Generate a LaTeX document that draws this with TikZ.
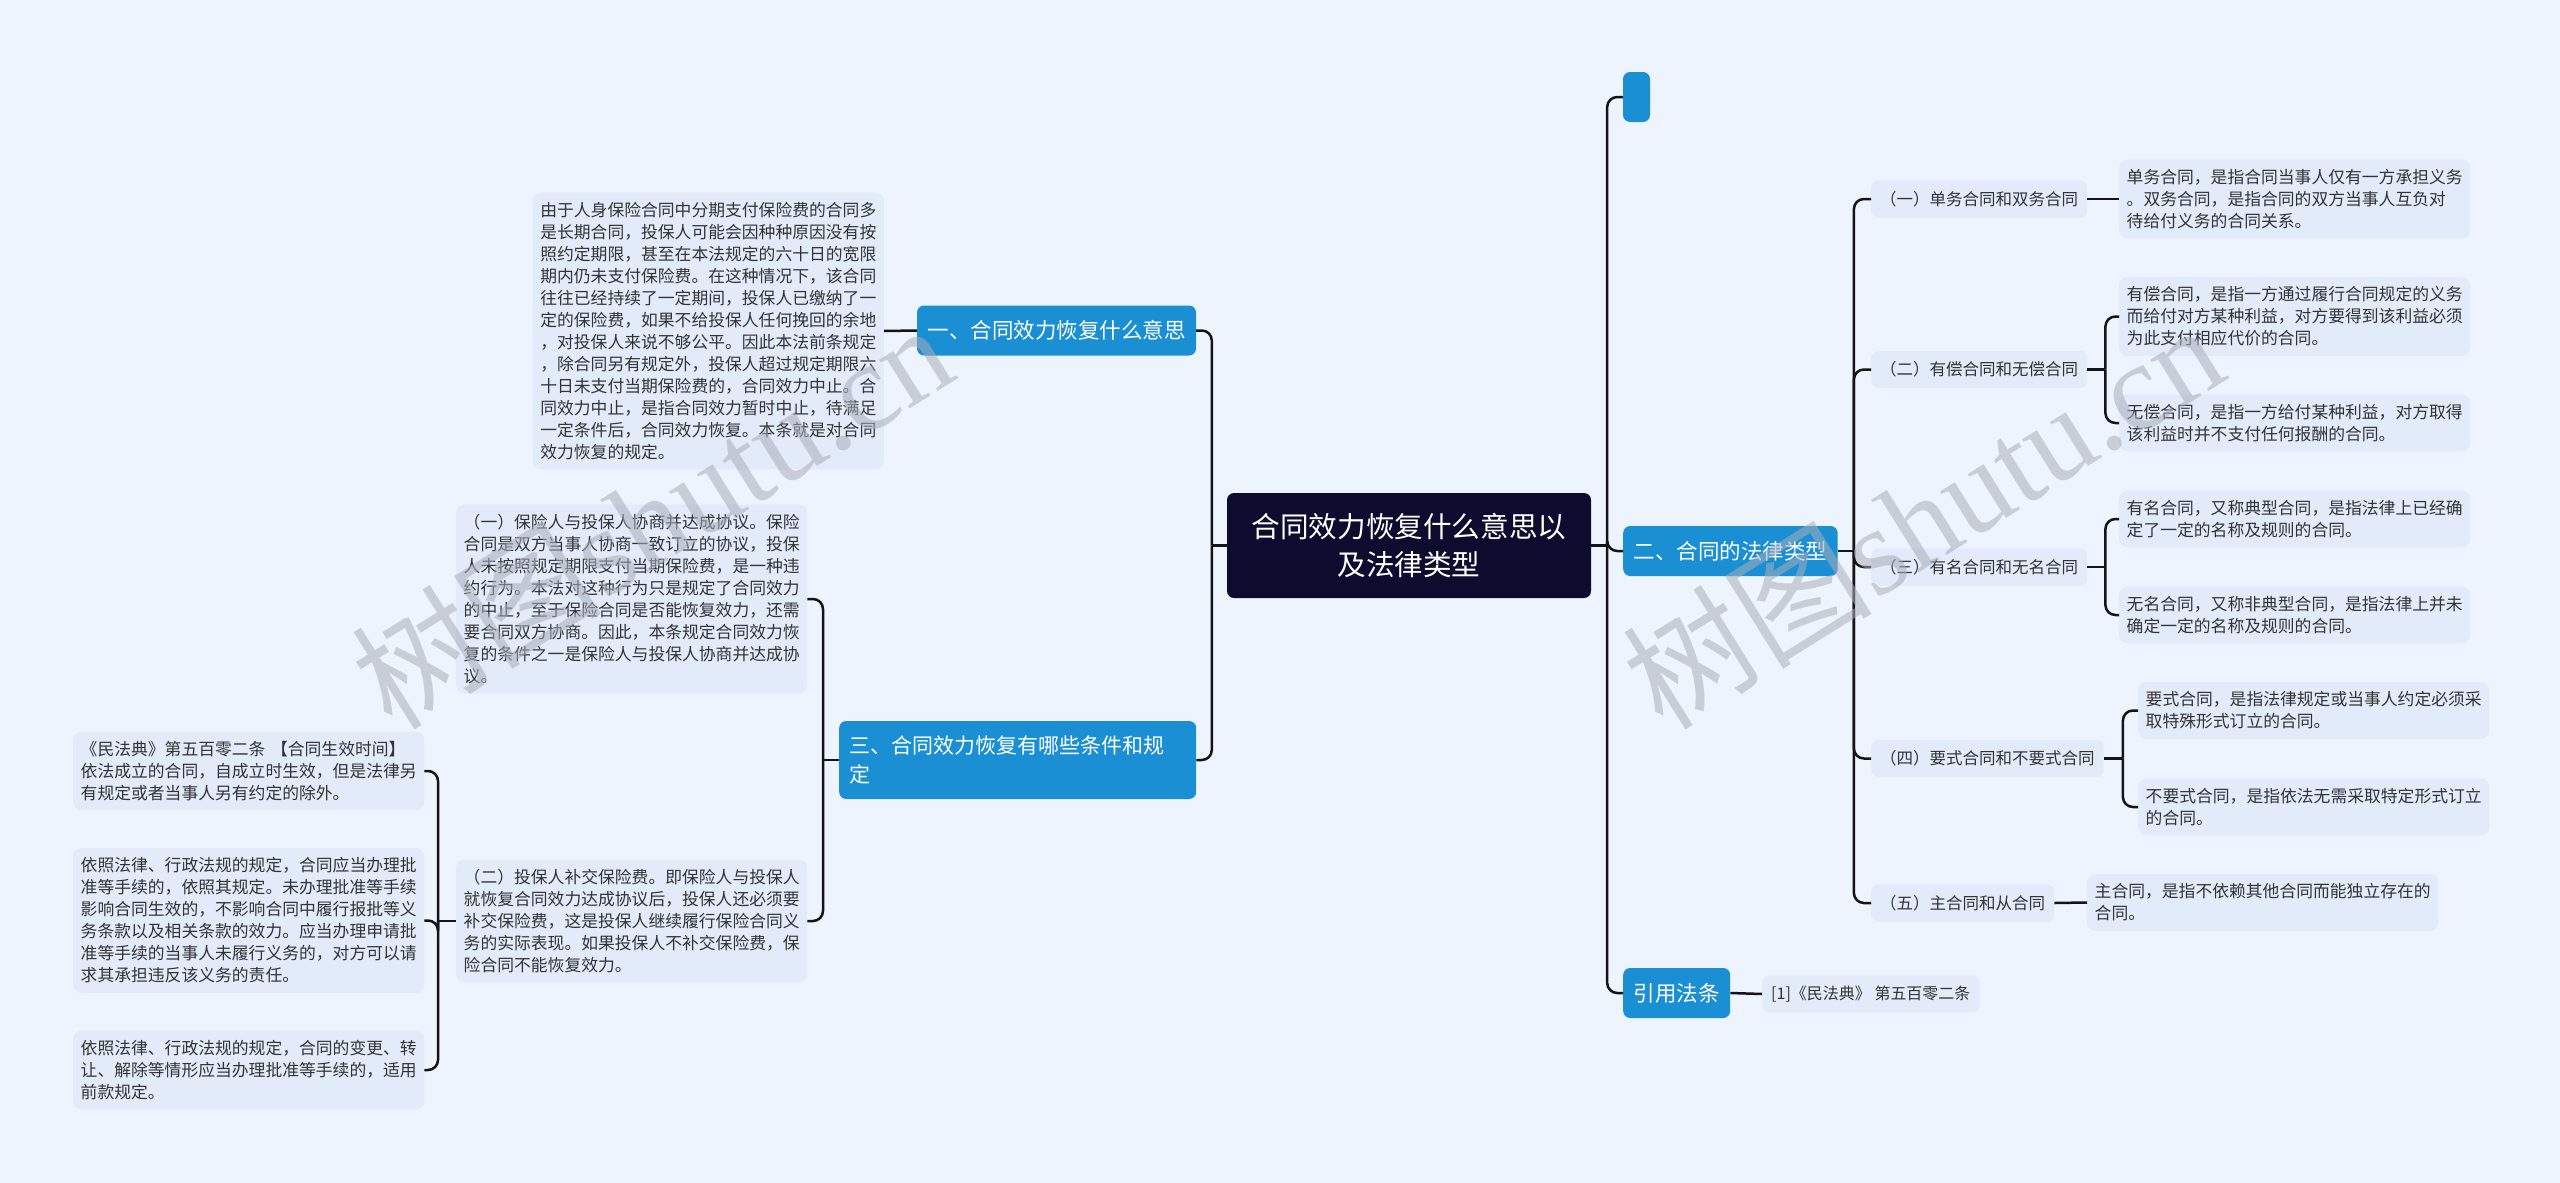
\documentclass[tikz,border=0pt]{standalone}
\usepackage{fontspec}
\setmainfont{Noto Sans CJK SC}
\newfontfamily\wmfont{Liberation Serif}
\usetikzlibrary{positioning}
\definecolor{bgcol}{HTML}{EEF4FD}
\definecolor{leafcol}{HTML}{E2EBFA}
\definecolor{topiccol}{HTML}{1A8FD3}
\definecolor{rootcol}{HTML}{0D0B2E}
\definecolor{inkcol}{HTML}{333333}
\definecolor{linecol}{HTML}{141414}
\definecolor{wmcol}{HTML}{A9AEBA}
\tikzset{
    root/.style={fill=rootcol, text=white, rounded corners=7pt, minimum width=364pt, minimum height=105pt, align=center, font=\fontsize{28.6}{38}\selectfont},
    topic/.style={fill=topiccol, text=white, rounded corners=7pt, inner xsep=10.5pt, minimum height=50pt, font=\fontsize{21.5}{29}\selectfont},
    kind/.style={fill=leafcol, text=inkcol, rounded corners=7pt, inner xsep=9pt, minimum height=37pt, font=\fontsize{16.5}{22}\selectfont},
    leaf/.style={fill=leafcol, text=inkcol, rounded corners=8pt, text width=336pt, inner xsep=7.5pt, inner ysep=9.5pt, align=left, font=\fontsize{16.8}{22}\selectfont},
    link/.style={draw=linecol, line width=2.5pt, rounded corners=10pt},
    wmark/.style={text=wmcol, opacity=0.55, rotate=32, font=\fontsize{125}{125}\selectfont}
}

\begin{document}
\begin{tikzpicture}[x=1pt, y=-1pt]
    % canvas
    \fill[bgcol] (0,0) rectangle (2560,1183);
    \useasboundingbox (0,0) rectangle (2560,1183);

    % centre
    \node[root] (root) at (1409,545.5) {合同效力恢复什么意思以\\及法律类型};

    % left side
    \node[topic] (b1) at (1056.5,330.5) {一、合同效力恢复什么意思};
    \node[topic, anchor=west, text width=336pt, align=left, minimum height=78pt, font=\fontsize{21}{29}\selectfont] (b3) at (839,760) {三、合同效力恢复有哪些条件和规\\定};
    \node[leaf, anchor=east] (t1) at (884,331) {由于人身保险合同中分期支付保险费的合同多\\是长期合同，投保人可能会因种种原因没有按\\照约定期限，甚至在本法规定的六十日的宽限\\期内仍未支付保险费。在这种情况下，该合同\\往往已经持续了一定期间，投保人已缴纳了一\\定的保险费，如果不给投保人任何挽回的余地\\，对投保人来说不够公平。因此本法前条规定\\，除合同另有规定外，投保人超过规定期限六\\十日未支付当期保险费的，合同效力中止。合\\同效力中止，是指合同效力暂时中止，待满足\\一定条件后，合同效力恢复。本条就是对合同\\效力恢复的规定。};
    \node[leaf, anchor=west] (tA) at (456,599) {（一）保险人与投保人协商并达成协议。保险\\合同是双方当事人协商一致订立的协议，投保\\人未按照规定期限支付当期保险费，是一种违\\约行为。本法对这种行为只是规定了合同效力\\的中止，至于保险合同是否能恢复效力，还需\\要合同双方协商。因此，本条规定合同效力恢\\复的条件之一是保险人与投保人协商并达成协\\议。};
    \node[leaf, anchor=west] (tB) at (456,921) {（二）投保人补交保险费。即保险人与投保人\\就恢复合同效力达成协议后，投保人还必须要\\补交保险费，这是投保人继续履行保险合同义\\务的实际表现。如果投保人不补交保险费，保\\险合同不能恢复效力。};
    \node[leaf, anchor=west] (c1) at (73,771) {《民法典》第五百零二条 【合同生效时间】\\依法成立的合同，自成立时生效，但是法律另\\有规定或者当事人另有约定的除外。};
    \node[leaf, anchor=west] (c2) at (73,920.5) {依照法律、行政法规的规定，合同应当办理批\\准等手续的，依照其规定。未办理批准等手续\\影响合同生效的，不影响合同中履行报批等义\\务条款以及相关条款的效力。应当办理申请批\\准等手续的当事人未履行义务的，对方可以请\\求其承担违反该义务的责任。};
    \node[leaf, anchor=west] (c3) at (73,1070) {依照法律、行政法规的规定，合同的变更、转\\让、解除等情形应当办理批准等手续的，适用\\前款规定。};

    % right side
    \node[topic, minimum width=27pt, inner xsep=0pt] (top) at (1636.5,97) {};
    \node[topic, anchor=west] (b2) at (1623,551) {二、合同的法律类型};
    \node[topic, anchor=west] (b4) at (1623,993) {引用法条};
    \node[kind, anchor=west, font=\fontsize{16}{22}\selectfont] (law) at (1762,994) {[1]《民法典》 第五百零二条};

    \node[kind, anchor=west] (k1) at (1871,199) {（一）单务合同和双务合同};
    \node[kind, anchor=west] (k2) at (1871,369.5) {（二）有偿合同和无偿合同};
    \node[kind, anchor=west] (k3) at (1871,567) {（三）有名合同和无名合同};
    \node[kind, anchor=west] (k4) at (1871,758.5) {（四）要式合同和不要式合同};
    \node[kind, anchor=west] (k5) at (1871,903) {（五）主合同和从合同};

    \node[leaf, anchor=west] (r1) at (2119,199) {单务合同，是指合同当事人仅有一方承担义务\\。双务合同，是指合同的双方当事人互负对\\待给付义务的合同关系。};
    \node[leaf, anchor=west] (r2a) at (2119,316.5) {有偿合同，是指一方通过履行合同规定的义务\\而给付对方某种利益，对方要得到该利益必须\\为此支付相应代价的合同。};
    \node[leaf, anchor=west] (r2b) at (2119,423) {无偿合同，是指一方给付某种利益，对方取得\\该利益时并不支付任何报酬的合同。};
    \node[leaf, anchor=west] (r3a) at (2119,519) {有名合同，又称典型合同，是指法律上已经确\\定了一定的名称及规则的合同。};
    \node[leaf, anchor=west] (r3b) at (2119,615) {无名合同，又称非典型合同，是指法律上并未\\确定一定的名称及规则的合同。};
    \node[leaf, anchor=west] (r4a) at (2138,710.5) {要式合同，是指法律规定或当事人约定必须采\\取特殊形式订立的合同。};
    \node[leaf, anchor=west] (r4b) at (2138,807) {不要式合同，是指依法无需采取特定形式订立\\的合同。};
    \node[leaf, anchor=west] (r5) at (2087,902.5) {主合同，是指不依赖其他合同而能独立存在的\\合同。};

    % links
    \draw[link] (root.west) -- ++(-15,0) coordinate (lj);
    \foreach \n in {b1,b3} \draw[link] (lj) |- (\n.east);
    \draw[link] (root.east) -- ++(16,0) coordinate (rj);
    \foreach \n in {top,b2,b4} \draw[link] (rj) |- (\n.west);

    \draw[link] (b1.west) -- (t1.east);
    \draw[link] (b3.west) -- ++(-16,0) coordinate (b3j);
    \foreach \n in {tA,tB} \draw[link] (b3j) |- (\n.east);
    \draw[link] (tB.west) -- ++(-18,0) coordinate (tBj);
    \foreach \n in {c1,c2,c3} \draw[link] (tBj) |- (\n.east);

    \draw[link] (b2.east) -- ++(16,0) coordinate (b2j);
    \foreach \n in {k1,k2,k3,k4,k5} \draw[link] (b2j) |- (\n.west);
    \draw[link] (k1.east) -- (r1.west);
    \draw[link] (k2.east) -- ++(18,0) coordinate (k2j);
    \foreach \n in {r2a,r2b} \draw[link] (k2j) |- (\n.west);
    \draw[link] (k3.east) -- ++(18,0) coordinate (k3j);
    \foreach \n in {r3a,r3b} \draw[link] (k3j) |- (\n.west);
    \draw[link] (k4.east) -- ++(19,0) coordinate (k4j);
    \foreach \n in {r4a,r4b} \draw[link] (k4j) |- (\n.west);
    \draw[link] (k5.east) -- (r5.west);
    \draw[link] (b4.east) -- (law.west);

    % watermarks
    \node[wmark] (wm1) at (651,515) {树图{\wmfont shutu.cn}};
    \node[wmark] (wm2) at (1922,515) {树图{\wmfont shutu.cn}};
\end{tikzpicture}
\end{document}
